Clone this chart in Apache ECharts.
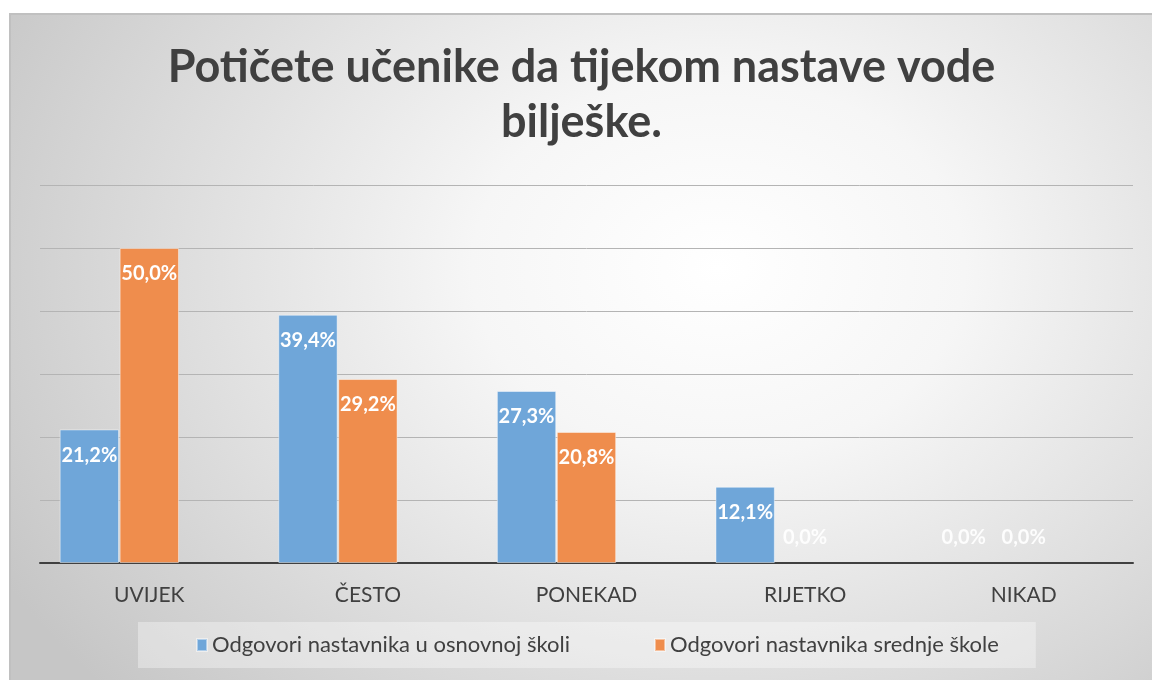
<!DOCTYPE html>
<html>
<head>
<meta charset="utf-8">
<script src="https://cdn.jsdelivr.net/npm/echarts@6/dist/echarts.min.js"></script>
<style>
  html, body { margin: 0; padding: 0; background: #ffffff; }
  #frame {
    position: absolute; left: 9px; top: 13px; width: 1143px; height: 667px;
    border-top: 2px solid #c0c0c0; border-left: 2px solid #c0c0c0; box-sizing: border-box;
    background: radial-gradient(ellipse 72% 95% at 62% 38%, #ffffff 0%, #f6f6f6 30%, #c6c6c6 100%);
  }
  #chart { width: 100%; height: 100%; }
</style>
</head>
<body>
<div id="frame"><div id="chart"></div></div>
<script>
// Potičete učenike da tijekom nastave vode bilješke.
var categories = ['UVIJEK', 'ČESTO', 'PONEKAD', 'RIJETKO', 'NIKAD'];
var osnovna = [21.2, 39.4, 27.3, 12.1, 0.0];
var srednja = [50.0, 29.2, 20.8, 0.0, 0.0];
// the original workbook has a third, empty series that still takes a slot
var prazno = [null, null, null, null, null];
var seriesNames = ['Odgovori nastavnika u osnovnoj školi', 'Odgovori nastavnika srednje škole'];

function pct(v) {
    return v.toFixed(1).replace('.', ',') + '%';
}

// zero bars get their label above the axis, like Excel does
function toItems(arr) {
    return arr.map(function (v) {
        if (v === 0) {
            return {
                value: v,
                itemStyle: {borderWidth: 0},
                label: {position: 'top', distance: 15, color: 'rgba(255,255,255,0.9)'}
            };
        }
        return v;
    });
}

var barLabel = {
    show: true,
    position: 'insideTop',
    distance: 16,
    color: '#ffffff',
    fontFamily: 'Lato',
    fontWeight: 'bold',
    fontSize: 20,
    formatter: function (p) { return pct(p.value); }
};

var option = {
    backgroundColor: 'transparent',
    textStyle: {fontFamily: 'Lato'},
    title: {
        text: 'Potičete učenike da tijekom nastave vode\nbilješke.',
        left: 'center',
        top: 20,
        textStyle: {
            fontFamily: 'Lato',
            fontWeight: 'bold',
            fontSize: 45,
            lineHeight: 55,
            color: '#404040'
        }
    },
    legend: {
        data: seriesNames,
        left: 127,
        top: 607,
        padding: [12, 37, 12, 58],
        backgroundColor: 'rgba(255,255,255,0.35)',
        itemWidth: 10,
        itemHeight: 12,
        itemGap: 84,
        icon: 'rect',
        textStyle: {fontFamily: 'Lato', fontSize: 22, color: '#404040'}
    },
    grid: {
        left: 29,
        right: 19,
        top: 170,
        bottom: 117
    },
    xAxis: {
        type: 'category',
        data: categories,
        axisLine: {lineStyle: {color: '#404040', width: 2}},
        axisTick: {show: false},
        axisLabel: {fontFamily: 'Lato', fontSize: 21, color: '#404040', margin: 22}
    },
    yAxis: {
        type: 'value',
        min: 0,
        max: 60,
        interval: 10,
        axisLabel: {show: false},
        axisLine: {show: false},
        axisTick: {show: false},
        splitLine: {lineStyle: {color: '#b4b4b4', width: 1}}
    },
    series: [
        {
            name: seriesNames[0],
            type: 'bar',
            data: toItems(osnovna),
            barGap: '1%',
            barCategoryGap: '18%',
            itemStyle: {color: '#6fa6d9', borderColor: 'rgba(255,255,255,0.45)', borderWidth: 1},
            label: barLabel
        },
        {
            name: seriesNames[1],
            type: 'bar',
            data: toItems(srednja),
            barGap: '1%',
            barCategoryGap: '18%',
            itemStyle: {color: '#ef8d4d', borderColor: 'rgba(255,255,255,0.45)', borderWidth: 1},
            label: barLabel
        },
        {
            name: 'prazno',
            type: 'bar',
            data: prazno,
            barGap: '1%',
            barCategoryGap: '18%',
            itemStyle: {color: 'transparent'}
        }
    ]
};

var myChart = echarts.init(document.getElementById('chart'));
myChart.setOption(option);
</script>
</body>
</html>
